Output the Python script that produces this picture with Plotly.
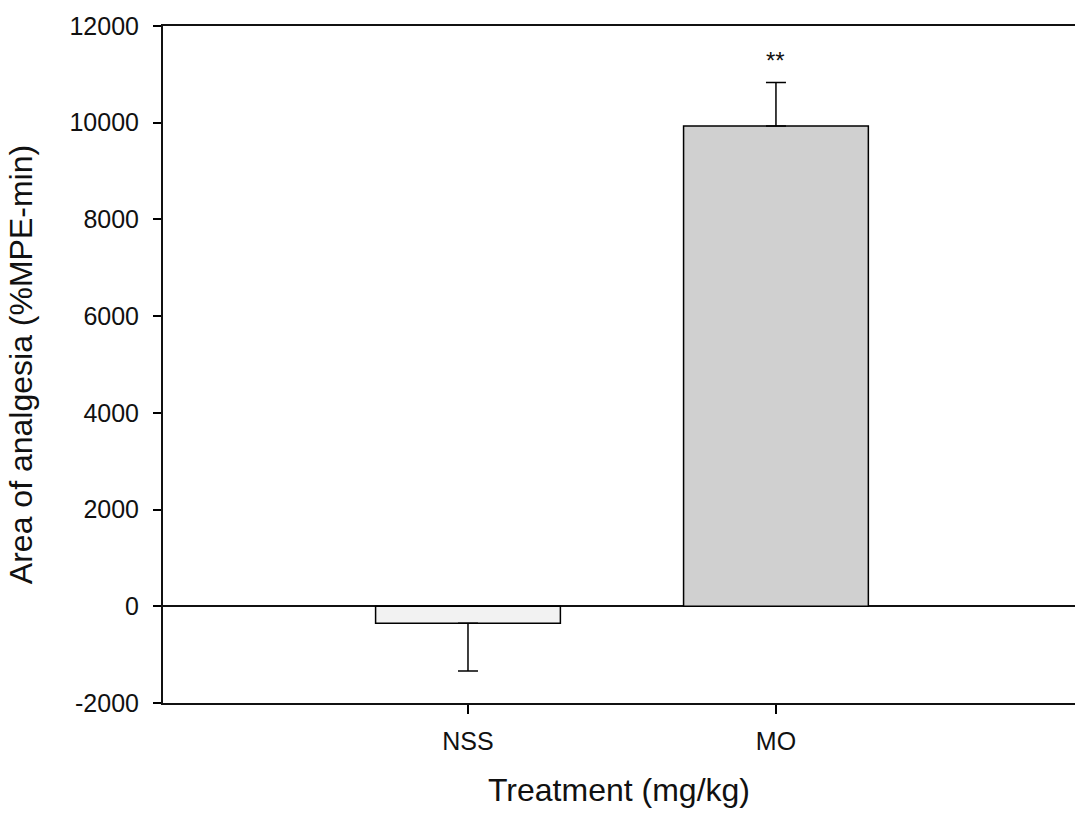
import plotly.graph_objects as go

categories = ["NSS", "MO"]
means = [-350, 9930]
err_plus = [0, 900]
err_minus = [990, 0]
bar_colors = ["#f2f2f2", "#d0d0d0"]
y_ticks = [-2000, 0, 2000, 4000, 6000, 8000, 10000, 12000]
y_tick_labels = ["-2000", "0", "2000", "4000", "6000", "8000", "10000", "12000"]
sig_labels = ["", "**"]

xpos = [1, 2]

fig = go.Figure()
fig.add_trace(go.Bar(
    x=xpos, y=means, width=0.6,
    marker=dict(color=bar_colors, line=dict(color="black", width=1.5)),
    error_y=dict(type="data", symmetric=False, array=err_plus, arrayminus=err_minus,
                 color="black", thickness=1.5, width=10),
    showlegend=False,
))

for xp, m, ep, s in zip(xpos, means, err_plus, sig_labels):
    if s:
        fig.add_annotation(x=xp, y=m + ep + 460, text=s, showarrow=False,
                           font=dict(size=24, color="#111111"),
                           yanchor="middle")

fig.update_layout(
    width=1075, height=815,
    margin=dict(l=163, r=0, t=26, b=112),
    paper_bgcolor="white", plot_bgcolor="white",
    font=dict(family="Liberation Sans, Arial, sans-serif", color="#111111"),
)
fig.update_xaxes(
    range=[0.0097, 2.971],
    tickmode="array", tickvals=xpos, ticktext=categories,
    ticks="outside", ticklen=9, tickwidth=1.5, tickcolor="black",
    ticklabelstandoff=6,
    showline=True, linecolor="#111111", linewidth=2, mirror=True,
    showgrid=False, zeroline=False,
    tickfont=dict(size=25),
    title=dict(text="Treatment (mg/kg)", font=dict(size=32), standoff=25),
)
fig.update_yaxes(
    range=[-2000, 12000],
    tickmode="array", tickvals=y_ticks, ticktext=y_tick_labels,
    ticks="outside", ticklen=8, tickwidth=1.5, tickcolor="black",
    ticklabelstandoff=9,
    showline=True, linecolor="#111111", linewidth=2, mirror=False,
    showgrid=False, zeroline=True, zerolinecolor="#111111", zerolinewidth=2,
    tickfont=dict(size=25),
    title=dict(text="Area of analgesia (%MPE-min)", font=dict(size=32), standoff=27),
)

fig.write_html("out.html", config={"displayModeBar": False},
               post_script="document.body.style.margin='0';")
